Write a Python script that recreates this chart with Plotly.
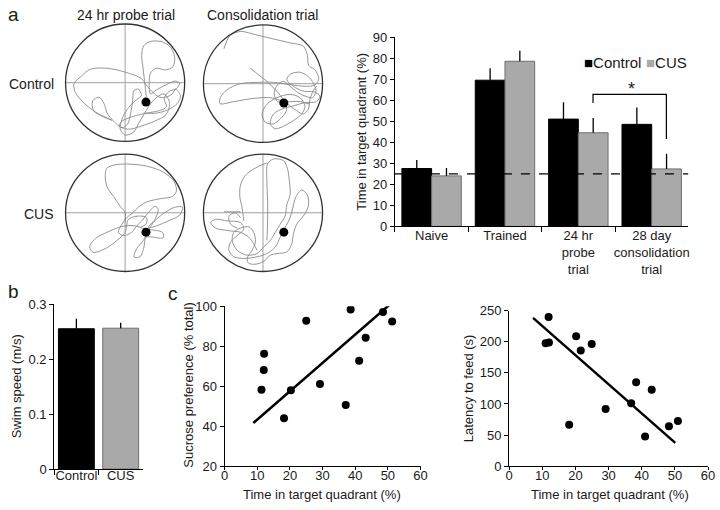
import plotly.graph_objects as go

W, H = 720, 510
FONT = "Liberation Sans, Arial, sans-serif"

# ---------------- data ----------------
# panel a (bar chart)
groups = ["Naive", "Trained", "24 hr<br>probe<br>trial", "28 day<br>consolidation<br>trial"]
control_vals = [27.5, 69.5, 51.0, 48.5]
control_err = [4.0, 5.7, 8.0, 8.0]
cus_vals = [24.0, 78.5, 44.5, 27.3]
cus_err = [3.8, 5.0, 7.0, 7.2]
chance_level = 25

# panel b
swim_groups = ["Control", "CUS"]
swim_vals = [0.255, 0.256]
swim_err = [0.018, 0.010]

# panel c left: time in target quadrant vs sucrose preference
suc_x = [11.3, 12.1, 12.0, 18.2, 20.3, 25.0, 29.2, 37.1, 38.6, 41.2, 43.2, 48.5, 51.3]
suc_y = [58.3, 76.2, 68.2, 44.1, 58.0, 92.7, 61.1, 50.7, 98.4, 72.8, 84.3, 97.1, 92.4]
suc_fit_x = [8.8, 51.6]
suc_fit_y = [41.7, 102.3]

# panel c right: time in target quadrant vs latency to feed
lat_x = [11.9, 11.0, 12.0, 18.1, 20.2, 21.6, 24.9, 29.1, 36.8, 38.3, 41.0, 43.0, 48.2, 50.9]
lat_y = [240, 197.6, 199, 66.4, 209, 186, 196.6, 91.8, 101, 134.9, 47.7, 123, 64.3, 72.6]
lat_fit_x = [7.2, 50.1]
lat_fit_y = [238.6, 37.3]

path_ctrl_probe = [(270,250),(266,210),(260,160),(256,120),(262,90),(285,76),(320,78),(345,95),(357,125),(352,155),
    (330,165),(300,160),(283,175),(279,205),(283,240),(300,228),(330,212),(358,200),(372,206),(362,224),(340,232),
    (325,255),(332,280),(310,292),(270,300),(230,310),(195,325),(188,340),(215,350),(255,340),(295,325),(330,305),
    (342,270),(325,240),(300,252),(280,275),(262,305),(245,335),(230,360),(205,368),(190,350),(195,320),(210,290),
    (235,262),(255,245),(245,225),(232,230),(228,262),(222,300),(212,335),(195,345),(170,325),(150,300),(140,270),
    (125,250),(105,262),(108,292),(135,310),(165,322),(120,300),(80,270),(52,235),(48,208),(70,185),(98,163),
    (150,160),(205,172),(255,192),(272,215),(290,235),(310,250),(330,250),(350,240),(360,225),(375,245),(365,270),
    (335,290),(300,300),(262,300)]
path_ctrl_cons = [(100,100),(118,60),(150,47),(200,58),(250,70),(300,82),(340,92),(352,120),(356,150),(378,168),
    (386,195),(372,212),(345,215),(300,210),(250,203),(200,203),(150,207),(110,225),(90,248),(88,268),(130,262),
    (190,252),(240,250),(280,262),(300,275),(320,290),(340,300),(355,285),(360,255),(370,228),(380,215), None,
    (180,160),(205,180),(230,200),(255,225),(275,250),(290,285),(275,310),(250,330),(225,325),(215,300),(230,270),
    (260,250),(300,240),(330,250),(345,275),(335,300),(310,320),(285,335),(255,345),(240,330),(250,300),(275,285),
    (310,275),(345,265),(380,262),(390,245),(372,232),(340,230),(310,215),(290,195),(300,178),(330,172),(355,185),
    (370,205),(378,228),(368,250),(345,245),(320,232),(300,215),(280,200),(262,210),(252,235),(262,262),(300,262),
    (330,262),(360,270)]
path_cus_probe = [(205,245),(205,215),(190,195),(170,165),(150,135),(145,100),(150,78),(175,68),(220,66),(270,72),
    (320,90),(352,118),(360,148),(348,165),(310,172),(270,182),(245,198),(228,215),(210,230),(195,250),(185,275),
    (200,285),(225,275),(240,255),(255,240),(275,215),(295,195),(305,205),(295,235),(275,260),(300,255),(335,240),
    (370,222),(378,198),(355,198),(320,218),(290,245),(275,270),(260,300),(240,325),(232,350),(250,350),(262,320),
    (268,290),(290,290),(320,292),(318,275),(290,268),(265,265),(235,255),(205,255),(180,262),(150,275),(118,292),
    (98,318),(108,336),(145,325),(180,300),(205,275),(210,250),(215,235),(245,225),(270,230),(268,250),(250,260)]
path_cus_cons = [(100,212),(150,212), None,
    (230,300),(232,240),(232,180),(230,120),(232,65),(250,50),(280,55),(292,80),(298,120),(300,160),(290,190),
    (285,225),(270,250),(255,275),(240,300),(220,320),(200,340),(170,345),(140,330),(125,300),(130,275),(150,262),
    (175,258),(190,275),(195,305),(185,330),(170,355),(175,370),(200,372),(225,360),(240,345),(260,340),(290,335),
    (305,310),(310,280),(320,250),(340,225),(355,195),(352,160),(335,145),(318,165),(308,200),(300,230),(285,260),
    (270,290),(255,320),(230,340),(200,350),(160,355),(130,350),(115,330),(120,305),(140,285),(160,265),(150,245),
    (110,240),(75,235),(60,245),(75,262),(115,270),(150,275),(175,290),(190,310),(200,330), None,
    (160,240),(155,200),(148,165),(150,130),(165,100),(195,78),(215,68),(230,62), None,
    (150,230),(135,215),(115,225),(120,250),(140,262)]
# (path, pool centre x, pool centre y, pool radius) in digitizing units
pools = [
    (path_ctrl_probe, 205, 205, 183),
    (path_ctrl_cons, 218, 207, 180),
    (path_cus_probe, 205, 215, 180),
    (path_cus_cons, 218, 215, 180),
]
platform_pos = (0.35, -0.33)

# ---------------- helpers ----------------
def px_x(a, b):
    return [a / W, b / W]

def px_y(top, bottom):
    return [1 - bottom / H, 1 - top / H]

fig = go.Figure()
BLACK = "#000000"
GRAY = "#a9a9a9"
GRAY_EDGE = "#6f6f6f"
TXT = "#1a1a1a"

# ---------------- panel a bar chart ----------------
fig.add_trace(go.Bar(x=groups, y=control_vals, name="Control", marker=dict(color=BLACK, line=dict(color=BLACK, width=1)),
                     error_y=dict(type="data", symmetric=False, array=control_err, arrayminus=[0]*4, width=0,
                                  color=BLACK, thickness=1.3),
                     showlegend=False, xaxis="x", yaxis="y"))
fig.add_trace(go.Bar(x=groups, y=cus_vals, name="CUS", marker=dict(color=GRAY, line=dict(color=GRAY_EDGE, width=1)),
                     error_y=dict(type="data", symmetric=False, array=cus_err, arrayminus=[0]*4, width=0,
                                  color=BLACK, thickness=1.3),
                     showlegend=False, xaxis="x", yaxis="y"))

# ---------------- panel b ----------------
fig.add_trace(go.Bar(x=swim_groups, y=swim_vals, showlegend=False,
                     marker=dict(color=[BLACK, GRAY], line=dict(color=[BLACK, GRAY_EDGE], width=1)),
                     error_y=dict(type="data", symmetric=False, array=swim_err, arrayminus=[0, 0], width=0,
                                  color=BLACK, thickness=1.3),
                     xaxis="x2", yaxis="y2"))

# ---------------- panel c ----------------
fig.add_trace(go.Scatter(x=suc_x, y=suc_y, mode="markers", marker=dict(color=BLACK, size=8), showlegend=False,
                         xaxis="x3", yaxis="y3"))
fig.add_trace(go.Scatter(x=suc_fit_x, y=suc_fit_y, mode="lines", line=dict(color=BLACK, width=2.5), showlegend=False,
                         xaxis="x3", yaxis="y3"))
fig.add_trace(go.Scatter(x=lat_x, y=lat_y, mode="markers", marker=dict(color=BLACK, size=8), showlegend=False,
                         xaxis="x4", yaxis="y4"))
fig.add_trace(go.Scatter(x=lat_fit_x, y=lat_fit_y, mode="lines", line=dict(color=BLACK, width=2.5), showlegend=False,
                         xaxis="x4", yaxis="y4"))

# ---------------- pools ----------------
pool_centres = [(123, 78), (263, 79), (123, 212), (263, 212)]
R_PX = 60.5
HALF = 62
shapes = []
for i, ((path, pcx, pcy, pr), (cx, cy)) in enumerate(zip(pools, pool_centres)):
    n = 5 + i
    xs, ys = [], []
    for p in path:
        if p is None:
            xs.append(None); ys.append(None)
        else:
            xs.append((p[0] - pcx) / pr)
            ys.append(-(p[1] - pcy) / pr)
    fig.add_trace(go.Scatter(x=xs, y=ys, mode="lines", line=dict(color="#8a8a8a", width=0.9, shape="spline", smoothing=0.9),
                             showlegend=False, xaxis=f"x{n}", yaxis=f"y{n}"))
    fig.add_trace(go.Scatter(x=[platform_pos[0]], y=[platform_pos[1]], mode="markers",
                             marker=dict(color=BLACK, size=9), showlegend=False, xaxis=f"x{n}", yaxis=f"y{n}"))
    rng = HALF / R_PX
    fig.layout[f"xaxis{n}"] = dict(domain=px_x(cx - HALF, cx + HALF), range=[-rng, rng], visible=False,
                                   anchor=f"y{n}", fixedrange=True)
    fig.layout[f"yaxis{n}"] = dict(domain=px_y(cy - HALF, cy + HALF), range=[-rng, rng], visible=False,
                                   anchor=f"x{n}", fixedrange=True)
    shapes.append(dict(type="line", xref=f"x{n}", yref=f"y{n}", x0=0, x1=0, y0=-1, y1=1,
                       line=dict(color="#a0a0a0", width=1), layer="below"))
    shapes.append(dict(type="line", xref=f"x{n}", yref=f"y{n}", x0=-1, x1=1, y0=0, y1=0,
                       line=dict(color="#a0a0a0", width=1), layer="below"))
    shapes.append(dict(type="circle", xref=f"x{n}", yref=f"y{n}", x0=-1, x1=1, y0=-1, y1=1,
                       line=dict(color="#333333", width=1.3)))

# chance line and significance bracket (panel a)
shapes.append(dict(type="line", xref="x", yref="y", x0=-0.5, x1=3.5, y0=chance_level, y1=chance_level,
                   line=dict(color=BLACK, width=1.2, dash="dash")))
shapes.append(dict(type="path", xref="x", yref="y", path="M 2.2,58.6 L 2.2,62.8 L 3.2,62.8 L 3.2,41.5",
                   line=dict(color=BLACK, width=1.2)))

tickfont = dict(family=FONT, size=13, color=TXT)
axis_common = dict(showline=True, linecolor=BLACK, linewidth=1, ticks="outside", ticklen=4, tickcolor=BLACK,
                   tickfont=tickfont, showgrid=False, zeroline=False, fixedrange=True, tickangle=0)

fig.update_layout(
    width=W, height=H, margin=dict(l=0, r=0, t=0, b=0),
    paper_bgcolor="white", plot_bgcolor="white",
    font=dict(family=FONT, size=13, color=TXT),
    barmode="group", bargap=0.19, bargroupgap=0,
    showlegend=False,
    xaxis=dict(axis_common, domain=px_x(397, 695), anchor="y", type="category", range=[-0.5, 3.5],
               tickson="boundaries", ticklen=5, ticklabelstandoff=-3),
    yaxis=dict(axis_common, domain=px_y(31, 226), anchor="x", range=[0, 90], dtick=10),
    xaxis2=dict(axis_common, domain=px_x(51, 141), anchor="y2", type="category", range=[-0.5, 1.5],
                tickson="boundaries", ticklen=5, ticklabelstandoff=-6),
    yaxis2=dict(axis_common, domain=px_y(306, 476), anchor="x2", range=[0, 0.3], tickvals=[0, 0.1, 0.2, 0.3],
                ticktext=["0", "0.1", "0.2", "0.3"]),
    xaxis3=dict(axis_common, domain=px_x(224, 423), anchor="y3", range=[0, 60], dtick=10, ticklen=3,
                ticklabelstandoff=-6),
    yaxis3=dict(axis_common, domain=px_y(308.3, 473.3), anchor="x3", range=[20, 100], dtick=20),
    xaxis4=dict(axis_common, domain=px_x(513, 715), anchor="y4", range=[0, 60], dtick=10, ticklen=3,
                ticklabelstandoff=-6),
    yaxis4=dict(axis_common, domain=px_y(313, 473), anchor="x4", range=[0, 250], dtick=50),
    shapes=shapes,
)

ann = []
def text(x, y, s, size=13, xanchor="center", yanchor="middle", angle=0):
    ann.append(dict(x=x / W, y=1 - y / H, xref="paper", yref="paper", text=s, showarrow=False,
                    font=dict(family=FONT, size=size, color=TXT), xanchor=xanchor, yanchor=yanchor,
                    textangle=angle))

text(2, 8, "a", size=19, xanchor="left")
text(2, 293, "b", size=19, xanchor="left")
text(165, 295, "c", size=19, xanchor="left")
text(124, 8, "24 hr probe trial", size=14)
text(263, 8, "Consolidation trial", size=14)
text(53, 79, "Control", size=14, xanchor="right")
text(53, 213, "CUS", size=14, xanchor="right")
text(363, 128, "Time in target quadrant (%)", angle=-90)
text(637, 84, "*", size=18)
text(13, 391, "Swim speed (m/s)", angle=-90)
text(187, 390, "Sucrose preference (% total)", angle=-90)
text(323, 502, "Time in target quadrant (%)")
text(472, 393, "Latency to feed (s)", angle=-90)
text(615, 502, "Time in target quadrant (%)")
# legend for panel a
text(587, 57, f'<span style="color:{BLACK}">■</span>Control', size=15, xanchor="left")
text(650, 57, f'<span style="color:{GRAY}">■</span>CUS', size=15, xanchor="left")
fig.update_layout(annotations=ann)

fig.write_html("out.html", post_script="document.body.style.margin='0px';",
               config={"displayModeBar": False})
